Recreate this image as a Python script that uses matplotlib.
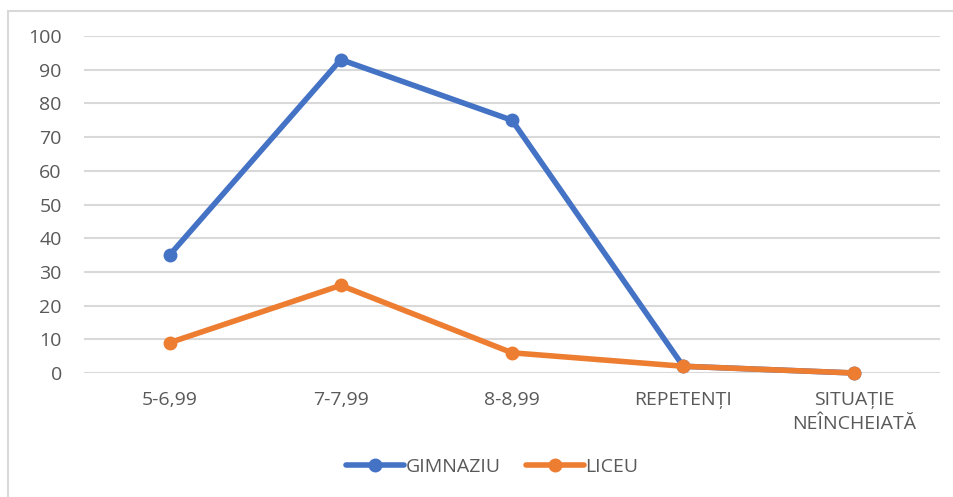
import matplotlib.pyplot as plt
from matplotlib.lines import Line2D

categories = ['5-6,99', '7-7,99', '8-8,99', 'REPETENȚI', 'SITUAȚIE\nNEÎNCHEIATĂ']
gimnaziu = [35, 93, 75, 2, 0]
liceu = [9, 26, 6, 2, 0]
yticks = list(range(0, 101, 10))

plt.rcParams['font.family'] = ['Open Sans', 'DejaVu Sans']
txt = '#595959'

fig = plt.figure(figsize=(9.54, 4.97), dpi=100)
ax = fig.add_axes([84 / 954, 1 - 373 / 497, 856 / 954, 337 / 497])

x = range(len(categories))
ax.plot(x, gimnaziu, color='#4472c4', lw=4, marker='o', ms=9, label='GIMNAZIU',
        solid_capstyle='round', zorder=3)
ax.plot(x, liceu, color='#ed7d31', lw=4, marker='o', ms=9, label='LICEU',
        solid_capstyle='round', zorder=4)

ax.set_xlim(-0.5, len(categories) - 0.5)
ax.set_ylim(0, 100)
ax.set_yticks(yticks)
ax.set_xticks(list(x))
ax.set_xticklabels(categories, linespacing=1.4)
ax.grid(axis='y', color='#d9d9d9', lw=1.5)
ax.set_axisbelow(True)
for line in ax.lines:
    line.set_clip_on(False)
for s in ax.spines.values():
    s.set_visible(False)
ax.tick_params(length=0, colors=txt, labelsize=14)
ax.tick_params(axis='y', pad=16)
ax.tick_params(axis='x', pad=13)

leg = fig.legend(loc='center', bbox_to_anchor=(492 / 954, 1 - 467 / 497), ncol=2,
                 frameon=False, fontsize=14, handlelength=3, handletextpad=0.05,
                 columnspacing=1.3, labelcolor=txt)

# chart area border (top and left visible)
fig.add_artist(Line2D([8 / 954, 8 / 954], [0, 1 - 11 / 497], color='#d9d9d9', lw=1.5))
fig.add_artist(Line2D([8 / 954, 1], [1 - 11 / 497, 1 - 11 / 497], color='#d9d9d9', lw=1.5))

fig.savefig('out.png', dpi=100, facecolor='white')
